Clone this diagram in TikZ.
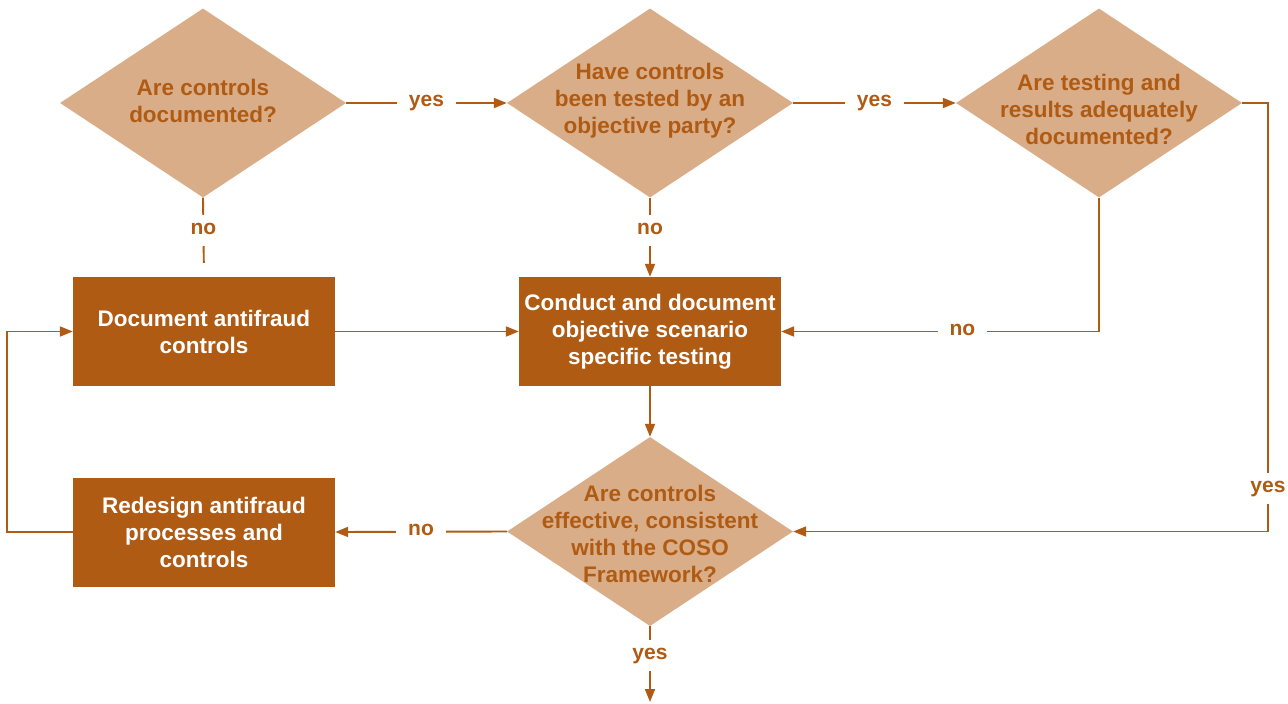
\documentclass[tikz,border=0pt]{standalone}
\usepackage{fontspec}
\setmainfont{Liberation Sans}
\usetikzlibrary{shapes.geometric,arrows.meta}
\definecolor{dark}{HTML}{B05B13}
\definecolor{light}{HTML}{D9AD88}
\begin{document}
\begin{tikzpicture}[x=1pt,y=-1pt,
  dia/.style={diamond,fill=light,minimum width=286pt,minimum height=189pt,inner sep=0pt},
  dtext/.style={align=center,text=dark,font=\fontsize{22.5}{27}\selectfont\bfseries,inner sep=0pt},
  box/.style={rectangle,fill=dark,text=white,minimum width=262pt,minimum height=109pt,inner sep=0pt,align=center,font=\fontsize{22.5}{27}\selectfont\bfseries},
  conn/.style={draw=dark,line width=1.9pt},
  arr/.style={conn,-{Triangle[length=13pt,width=10pt]}},
  lab/.style={fill=white,text=dark,font=\fontsize{21}{25}\selectfont\bfseries,inner xsep=12pt,inner ysep=8pt,text height=11pt,text depth=4pt}]
\useasboundingbox (0,0) rectangle (1288,704);
% diamonds
\node[dia] (d1) at (203,103) {};
\node[dtext] at (203,101) {Are controls\\documented?};
\node[dia] (d2) at (650,103) {};
\node[dtext] at (650,101) {Have controls\\been tested by an\\objective party?};
\node[dia] (d3) at (1099,103) {};
\node[dtext] at (1099,109) {Are testing and\\results adequately\\documented?};
\node[dia] (d4) at (650,531.5) {};
\node[dtext] at (650,534) {Are controls\\effective, consistent\\with the COSO\\Framework?};
% boxes
\node[box] (b1) at (204,331.5) {Document antifraud\\controls};
\node[box] (b2) at (650,331.5) {Conduct and document\\objective scenario\\specific testing};
\node[box] (b3) at (204,532) {Redesign antifraud\\processes and\\controls};
\coordinate (c1) at (1268,103);
\coordinate (c2) at (7,532);
\coordinate (c3) at (650,702);
% connectors
\draw[arr] (d1.east) -- node[lab]{yes} (d2.west);
\draw[arr] (d2.east) -- node[lab]{yes} (d3.west);
\draw[conn,shorten >=14pt] (d1.south) -- node[lab,pos=0.42]{no} (b1.north);
\draw[arr] (d2.south) -- node[lab,pos=0.42]{no} (b2.north);
\draw[arr] (b1.east) -- (b2.west);
\draw[arr] (d3.south) |- node[lab,pos=0.715]{no} (b2.east);
\draw[arr] (d3.east) -- (c1) -- node[lab,pos=0.9]{yes} (c1 |- d4.east) -- (d4.east);
\draw[arr] (b2.south) -- (d4.north);
\draw[arr] (d4.west) -- node[lab]{no} (b3.east);
\draw[arr] (b3.west) -- (c2) |- (b1.west);
\draw[arr] (d4.south) -- node[lab,pos=0.39]{yes} (c3);
\end{tikzpicture}
\end{document}
